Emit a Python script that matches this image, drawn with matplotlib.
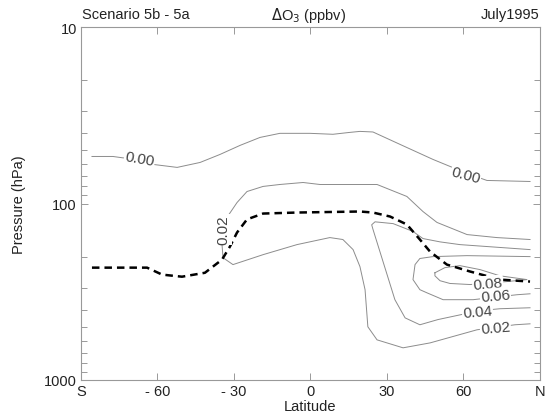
import matplotlib
matplotlib.use("Agg")
import matplotlib.pyplot as plt
from matplotlib.ticker import FixedLocator, NullFormatter

plt.rcParams['font.family'] = ['Liberation Sans', 'DejaVu Sans']

# contour lines of the ozone difference, (latitude, pressure hPa) along each line
c000_lat = [-85.7, -77.5, -70.0, -61.8, -52.3, -43.3, -35.5, -27.6, -19.8, -12.0, -0.2, 8.8, 15.5, 19.4, 24.5, 35.1, 48.0, 54.7, 62.0, 69.2, 86.1]
c000_p = [54.1, 54.1, 56.0, 60.0, 62.4, 58.5, 52.7, 46.8, 42.2, 40.0, 40.0, 40.5, 39.5, 39.0, 39.3, 46.2, 56.2, 61.6, 68.0, 74.0, 75.0]

c002_lat = [86.1, 73.1, 61.4, 49.6, 44.1, 37.8, 26.1, 3.7, -2.9, -12.0, -18.6, -24.9, -28.8, -32.0, -33.5, -34.7, -34.3, -30.4,
            -18.6, -5.3, 7.6, 12.7, 16.7, 19.4, 21.4, 22.5, 26.1, 36.3, 46.9, 65.3, 80.2, 86.1]
c002_p = [160, 156, 150, 128, 111, 91.2, 78, 78, 76, 78, 80, 85.5, 98.7, 115.5, 140, 171, 203, 222,
          195, 171, 156, 160, 182.5, 228, 308, 500, 593, 658, 617, 520, 487, 481]

c004_lat = [86.1, 58.6, 50.8, 44.1, 40.2, 32.4, 25.3, 24.0, 24.5, 27.6, 30.4, 33.1, 37.1, 42.9, 50.0, 58.6, 66.5, 74.3, 86.1]
c004_p = [182.5, 171, 165, 158, 144, 130, 127, 132, 140, 195, 263, 351, 445, 487, 455, 428, 405, 395, 390]

c006_lat = [86.1, 61.4, 48.0, 42.9, 41.0, 40.2, 42.9, 45.7, 52.0, 63.8, 72.0, 81.0, 86.1]
c006_p = [200, 197.5, 200, 205, 222, 270, 308, 321, 351, 351, 340, 329, 325]

c008_lat = [48.8, 52.7, 58.6, 66.5, 74.3, 84.9, 77.1, 62.6, 54.7, 50.8, 48.8, 48.8]
c008_p = [247, 231, 225, 237, 257, 270, 277, 288, 284, 274, 257, 247]

# tropopause
trop_lat = [-85.7, -64.1, -58.2, -50.4, -41.4, -34.7, -31.6, -28.8, -24.9, -18.6, -5.3, 19.4, 24.5, 31.2, 37.8, 42.9,
            46.9, 53.5, 62.6, 74.3, 86.1]
trop_p = [231, 231, 253, 260, 247, 208, 175.5, 146, 123, 114, 112.5, 111, 112.5, 118.5, 131.5, 160,
          187.5, 222, 243, 270, 277]

# contour labels: text, latitude, pressure, rotation
labels = [
    ("0.00", -67.0, 55.5, -10),
    ("0.00", 61.0, 68.5, -15),
    ("0.02", -34.0, 140, 90),
    ("0.08", 69.5, 284, 5),
    ("0.06", 72.5, 333, 5),
    ("0.04", 65.5, 412, 5),
    ("0.02", 72.5, 505, 5),
]

xticks = [-90, -60, -30, 0, 30, 60, 90]
xticklabels = ['S', '- 60', '- 30', '0', '30', '60', 'N']

fig = plt.figure(figsize=(5.51, 4.14), dpi=100)
ax = fig.add_axes([0.147, 0.080, 0.833, 0.852])

line_kw = dict(color='#8c8c8c', lw=0.7)
ax.plot(c000_lat, c000_p, **line_kw)
ax.plot(c002_lat, c002_p, **line_kw)
ax.plot(c004_lat, c004_p, **line_kw)
ax.plot(c006_lat, c006_p, **line_kw)
ax.plot(c008_lat, c008_p, **line_kw)
ax.plot(trop_lat, trop_p, color='black', lw=1.8, dashes=(3, 2))

for txt, la, pp, rot in labels:
    ax.text(la, pp, txt, ha='center', va='center', rotation=rot, fontsize=11, color='#444444',
            bbox=dict(boxstyle='square,pad=0.05', fc='white', ec='none'), zorder=5)

ax.set_yscale('log')
ax.set_ylim(1000, 10)
ax.set_xlim(-90, 90)
ax.yaxis.set_major_locator(FixedLocator([10, 100, 1000]))
ax.set_yticklabels(['10', '100', '1000'])
ax.yaxis.set_minor_locator(FixedLocator([20, 30, 40, 50, 60, 70, 80, 90, 200, 300, 400, 500, 600, 700, 800, 900]))
ax.yaxis.set_minor_formatter(NullFormatter())
ax.set_xticks(xticks)
ax.set_xticklabels(xticklabels)

ax.tick_params(which='both', direction='in', top=True, right=True, color='#999999', labelsize=10.5,
               labelcolor='#222222')
ax.tick_params(which='major', length=5, width=0.7)
ax.tick_params(which='minor', length=4, width=0.7)
ax.tick_params(axis='x', pad=3)
ax.tick_params(axis='y', pad=3)
for s in ax.spines.values():
    s.set_color('#999999')
    s.set_linewidth(0.8)

ax.set_xlabel('Latitude', fontsize=10.5, color='#222222', labelpad=1)
ax.set_ylabel('Pressure (hPa)', fontsize=10.5, color='#222222', labelpad=13)

fig.text(0.149, 0.963, 'Scenario 5b - 5a', fontsize=10.5, color='#222222', va='center', ha='left')
fig.text(0.56, 0.963, r'$\Delta$O$_3$ (ppbv)', fontsize=10.5, color='#222222', va='center', ha='center')
fig.text(0.98, 0.963, 'July1995', fontsize=10.5, color='#222222', va='center', ha='right')

fig.savefig('out.png', dpi=100)
